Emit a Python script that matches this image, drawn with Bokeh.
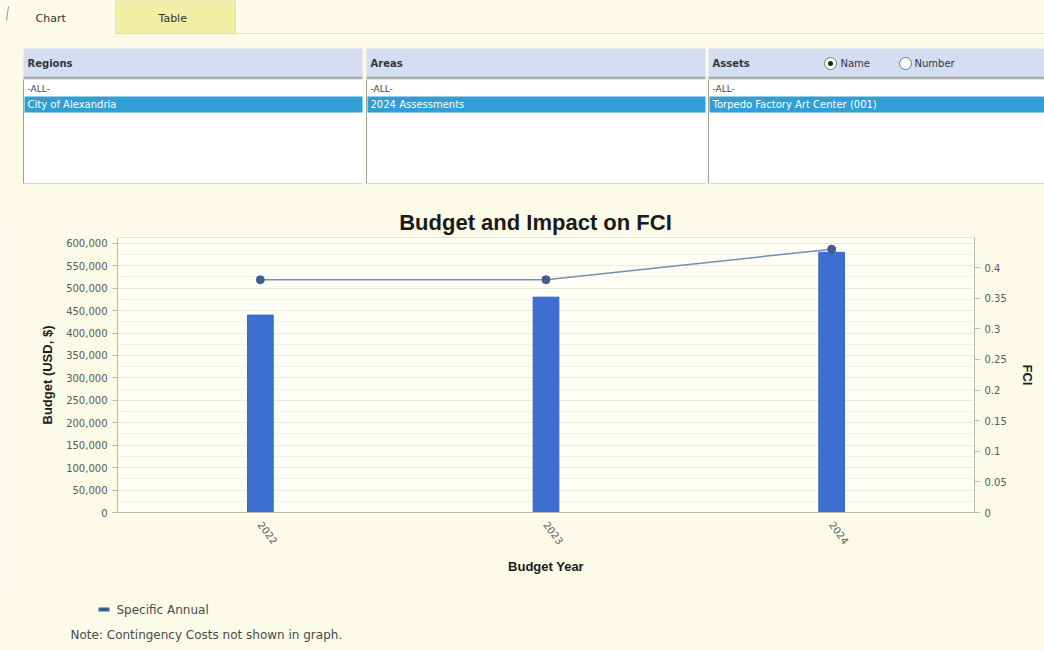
from bokeh.plotting import figure
from bokeh.layouts import column
from bokeh.models import (Range1d, FactorRange, LinearAxis, FixedTicker,
                          NumeralTickFormatter, CustomJSTickFormatter)
from bokeh.core.properties import value
from bokeh.embed import file_html
from bokeh.resources import INLINE

# ---- chart data ----
years = ["2022", "2023", "2024"]
budget = [440000, 480000, 580000]
fci = [0.38, 0.38, 0.43]
budget_ticks = list(range(0, 600001, 50000))
fci_ticks = [0, 0.05, 0.1, 0.15, 0.2, 0.25, 0.3, 0.35, 0.4]

# ---- selector panel texts ----
panel_titles = ["Regions", "Areas", "Assets"]
panel_selected = ["City of Alexandria", "2024 Assessments", "Torpedo Factory Art Center  (001)"]
panel_x0 = [23, 366, 708]
panel_x1 = [362, 705, 1044]

PAGE = "#fcfbe7"
UI_FONT = value("DejaVu Sans")


def strip(height, y0):
    """A pixel-addressed drawing strip with no axes."""
    f = figure(width=1044, height=height, x_range=Range1d(0, 1044),
               y_range=Range1d(y0 + height, y0), toolbar_location=None,
               output_backend="svg", min_border=0, min_border_left=0,
               min_border_right=0, min_border_top=0, min_border_bottom=0,
               frame_align=False)
    f.axis.visible = False
    f.grid.visible = False
    f.outline_line_color = None
    f.background_fill_color = PAGE
    f.border_fill_color = PAGE
    return f


# ---------------- header strip with tabs and selectors ----------------
top = strip(236, 0)

# tabs
top.quad(left=[115], right=[235], top=[0], bottom=[33], fill_color="#f2eea6", line_color="#e4e0a0")
top.segment(x0=[235], y0=[33], x1=[1044], y1=[33], line_color="#e6e3c0", line_width=1)
top.segment(x0=[8], y0=[6], x1=[6], y1=[20], line_color="#9a9a8a", line_width=1)
top.text(x=[35, 158], y=[18, 18], text=["Chart", "Table"], text_font=UI_FONT,
         text_font_size="11px", text_color="#333333", text_baseline="middle")

# selector panels
top.quad(left=panel_x0, right=panel_x1, top=[48] * 3, bottom=[76] * 3,
         fill_color="#d4ddf1", line_color=None)
top.quad(left=panel_x0, right=panel_x1, top=[76] * 3, bottom=[79] * 3,
         fill_color="#a8acb3", line_color=None)
top.quad(left=panel_x0, right=panel_x1, top=[79] * 3, bottom=[183] * 3,
         fill_color="white", line_color=None)
top.segment(x0=panel_x0, y0=[79] * 3, x1=panel_x0, y1=[183] * 3, line_color="#a0a0a0")
top.segment(x0=panel_x0, y0=[183] * 3, x1=panel_x1, y1=[183] * 3, line_color="#d8d8d8")
top.quad(left=[x + 1 for x in panel_x0], right=panel_x1, top=[96] * 3, bottom=[112] * 3,
         fill_color="#2f9fd6", line_color=None)
top.text(x=[x + 4 for x in panel_x0], y=[63] * 3, text=panel_titles, text_font=UI_FONT,
         text_font_size="10px", text_font_style="bold", text_color="#333344",
         text_baseline="middle")
top.text(x=[x + 4 for x in panel_x0], y=[88] * 3, text=["-ALL-"] * 3, text_font=UI_FONT,
         text_font_size="9px", text_color="#444444", text_baseline="middle")
top.text(x=[x + 4 for x in panel_x0], y=[104] * 3, text=panel_selected, text_font=UI_FONT,
         text_font_size="10px", text_color="white", text_baseline="middle")

# name / number radio buttons
top.scatter(x=[830, 905], y=[63, 63], size=12, marker="circle",
            fill_color="white", line_color="#777777")
top.scatter(x=[830], y=[63], size=5, marker="circle", fill_color="#222222", line_color=None)
top.text(x=[840, 914], y=[63, 63], text=["Name", "Number"], text_font=UI_FONT,
         text_font_size="10px", text_color="#333344", text_baseline="middle")

# chart title
top.text(x=[535], y=[222], text=["Budget and Impact on FCI"], text_font=value("Liberation Sans"),
         text_font_size="22px", text_font_style="bold", text_color="#1a1a1a",
         text_align="center", text_baseline="middle")

# ---------------- the chart ----------------
p = figure(width=1044, height=354, x_range=FactorRange(factors=years),
           y_range=Range1d(0, 613000), toolbar_location=None, output_backend="svg",
           min_border_left=117, min_border_right=70, min_border_top=1, min_border_bottom=78,
           frame_align=False)
p.background_fill_color = "#fffff6"
p.border_fill_color = PAGE
p.outline_line_color = "#e4e3d0"

p.extra_y_ranges = {"fci": Range1d(0, 0.449)}

p.vbar(x=years, top=budget, width=0.09, fill_color="#3d6fd0", line_color="#3566c4")
p.line(x=years, y=fci, y_range_name="fci", line_color="#7090b4", line_width=1.5)
p.scatter(x=years, y=fci, y_range_name="fci", size=8, marker="circle",
          fill_color="#3e5f90", line_color="#3e5f90")

# left axis
ya = p.yaxis[0]
ya.ticker = FixedTicker(ticks=budget_ticks,
                        minor_ticks=list(range(0, 610001, 25000)))
ya.formatter = NumeralTickFormatter(format="0,0")
ya.axis_label = "Budget (USD, $)"
ya.axis_label_standoff = 8

# right axis
ra = LinearAxis(y_range_name="fci", axis_label="FCI",
                ticker=FixedTicker(ticks=fci_ticks),
                formatter=CustomJSTickFormatter(code="return String(+tick.toFixed(2));"))
ra.axis_label_standoff = 10
p.add_layout(ra, "right")

# bottom axis
xa = p.xaxis[0]
xa.axis_label = "Budget Year"
xa.major_label_orientation = -0.93
xa.axis_label_standoff = 8

for ax in [ya, ra, xa]:
    ax.axis_line_color = "#b8b8b0"
    ax.major_tick_line_color = None if ax is xa else "#b8b8b0"
    ax.major_tick_out = 5
    ax.major_tick_in = 0
    ax.minor_tick_line_color = None
    ax.major_label_text_font = "DejaVu Sans"
    ax.major_label_text_font_size = "10px"
    ax.major_label_text_color = "#5a5a5a"
    ax.axis_label_text_font = "Liberation Sans"
    ax.axis_label_text_font_size = "13px"
    ax.axis_label_text_font_style = "bold"
    ax.axis_label_text_color = "#1a1a1a"

p.xgrid.grid_line_color = None
p.ygrid.grid_line_color = "#ecebd9"
p.ygrid.minor_grid_line_color = "#f5f4e4"

# ---------------- legend and note ----------------
bot = strip(60, 590)
bot.quad(left=[98], right=[109], top=[607], bottom=[611], fill_color="#3e5f90", line_color=None)
bot.text(x=[116], y=[609], text=["Specific Annual"], text_font=UI_FONT,
         text_font_size="12px", text_color="#4a4a4a", text_baseline="middle")
bot.text(x=[70], y=[634], text=["Note: Contingency Costs not shown in graph."], text_font=UI_FONT,
         text_font_size="12px", text_color="#4a4a4a", text_baseline="middle")

layout = column(top, p, bot, spacing=0)
open("out.html", "w").write(file_html(layout, INLINE))
